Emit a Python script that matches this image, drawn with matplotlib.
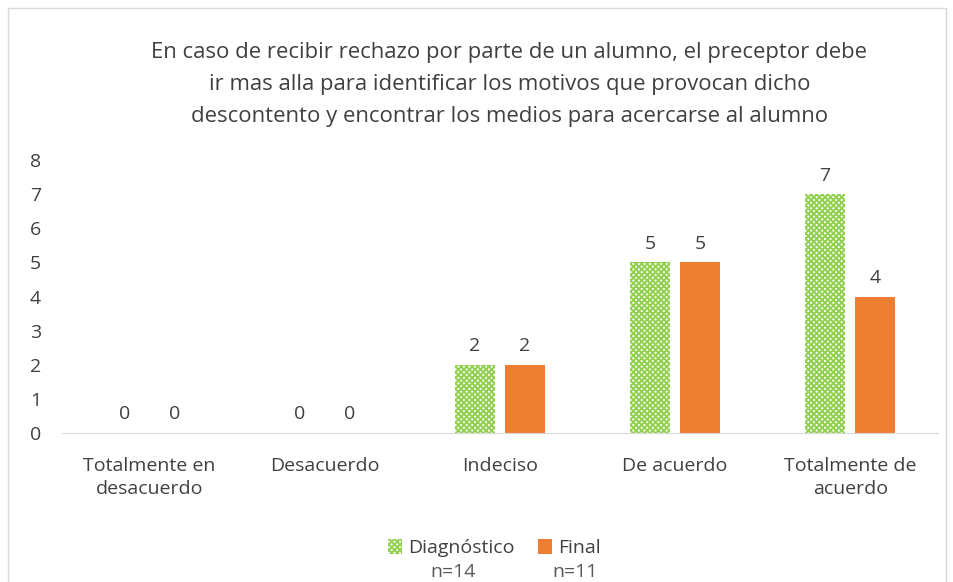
import matplotlib
matplotlib.use("Agg")
import matplotlib.pyplot as plt
from matplotlib.patches import Rectangle
import numpy as np

categories = ["Totalmente en\ndesacuerdo", "Desacuerdo", "Indeciso", "De acuerdo", "Totalmente de\nacuerdo"]
diagnostico = [0, 0, 2, 5, 7]
final = [0, 0, 2, 5, 4]
series_names = ["Diagnóstico", "Final"]
n_labels = ["n=14", "n=11"]
title = ("En caso de recibir rechazo por parte de un alumno, el preceptor debe\n"
         "ir mas alla para identificar los motivos que provocan dicho\n"
         "descontento y encontrar los medios para acercarse al alumno")

plt.rcParams['font.family'] = ['Open Sans', 'DejaVu Sans']
plt.rcParams['hatch.linewidth'] = 1.4

txt = '#404040'
green = '#92D050'
orange = '#ED7D31'
fs = 14

fig = plt.figure(figsize=(9.54, 5.82), dpi=100)
ax = fig.add_axes([0.065, 0.256, 0.918, 0.469])

x = np.arange(len(categories))
w = 0.23
off = 0.143
b1 = ax.bar(x - off, diagnostico, w, facecolor='white', edgecolor=green, hatch='xxxxxx', linewidth=0, label=series_names[0])
b2 = ax.bar(x + off, final, w, color=orange, label=series_names[1])

for xi, v in zip(x - off, diagnostico):
    ax.text(xi, v + 0.28, str(v), ha='center', va='bottom', fontsize=fs, color=txt)
for xi, v in zip(x + off, final):
    ax.text(xi, v + 0.28, str(v), ha='center', va='bottom', fontsize=fs, color=txt)

ax.set_xlim(-0.5, 4.5)
ax.set_ylim(0, 8)
ax.set_yticks(range(0, 9))
ax.set_xticks(x)
ax.set_xticklabels(categories, fontsize=fs, color=txt, linespacing=1.4)
ax.tick_params(axis='y', labelsize=fs, labelcolor=txt, length=0, pad=15)
ax.tick_params(axis='x', length=0, pad=17)
for s in ['left', 'right', 'top']:
    ax.spines[s].set_visible(False)
ax.spines['bottom'].set_color('#d9d9d9')

fig.text(0.534, 0.928, title, ha='center', va='top', fontsize=15.9, color=txt, linespacing=1.68)

leg = fig.legend(handles=[b1, b2], loc='center', bbox_to_anchor=(0.518, 0.058), ncol=2,
                 frameon=False, fontsize=fs, handlelength=0.75, handleheight=0.75,
                 handletextpad=0.3, columnspacing=1.2)
for t in leg.get_texts():
    t.set_color(txt)

fig.text(0.475, 0.018, n_labels[0], ha='center', va='center', fontsize=fs, color='#595959')
fig.text(0.603, 0.018, n_labels[1], ha='center', va='center', fontsize=fs, color='#595959')

fig.patches.append(Rectangle((8/954, -0.1), 938/954, 1.1 - 8/582, transform=fig.transFigure,
                             fill=False, edgecolor='#d9d9d9', linewidth=1))

fig.savefig("out.png", dpi=100)
